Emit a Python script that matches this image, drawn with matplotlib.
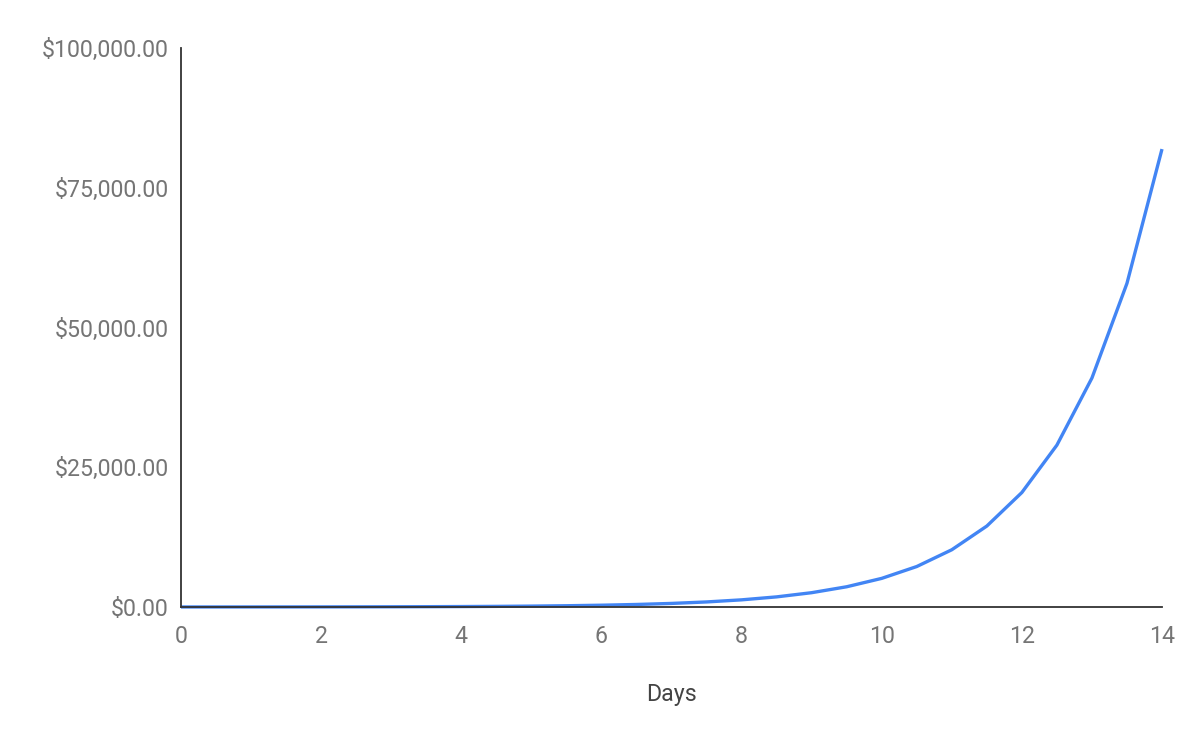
import matplotlib.pyplot as plt
from matplotlib.ticker import FuncFormatter

plt.rcParams['font.family'] = ['Roboto', 'DejaVu Sans']

# balance every half day
days = [0, 0.5, 1, 1.5, 2, 2.5, 3, 3.5, 4, 4.5, 5, 5.5, 6, 6.5, 7, 7.5,
        8, 8.5, 9, 9.5, 10, 10.5, 11, 11.5, 12, 12.5, 13, 13.5, 14]
balance = [5, 7, 10, 14, 20, 28, 40, 57, 80, 113, 160, 226, 320, 453, 640, 905,
           1280, 1810, 2560, 3620, 5120, 7240, 10240, 14480, 20480, 28960, 40960, 57900, 81920]
x_ticks = [0, 2, 4, 6, 8, 10, 12, 14]
y_ticks = [0, 25000, 50000, 75000, 100000]

fig = plt.figure(figsize=(12, 7.42), dpi=100)
ax = fig.add_axes([181/1200, 1 - 607/742, (1162 - 181)/1200, (607 - 48)/742])

ax.plot(days, balance, color='#4285F4', linewidth=2.4, solid_joinstyle='round',
        solid_capstyle='butt', clip_on=False)

ax.set_xlim(0, 14)
ax.set_ylim(0, 100000)
ax.set_xticks(x_ticks)
ax.set_yticks(y_ticks)
ax.yaxis.set_major_formatter(FuncFormatter(lambda v, p: '${:,.2f}'.format(v)))
ax.tick_params(axis='both', length=0, labelsize=16.7, labelcolor='#757575')
ax.tick_params(axis='x', pad=13)
ax.tick_params(axis='y', pad=9)

for s in ['top', 'right']:
    ax.spines[s].set_visible(False)
for s in ['left', 'bottom']:
    ax.spines[s].set_color('#333333')
    ax.spines[s].set_linewidth(1.3)

ax.set_xlabel('Days', fontsize=16.7, color='#444444', labelpad=25)

fig.savefig('out.png', dpi=100)
